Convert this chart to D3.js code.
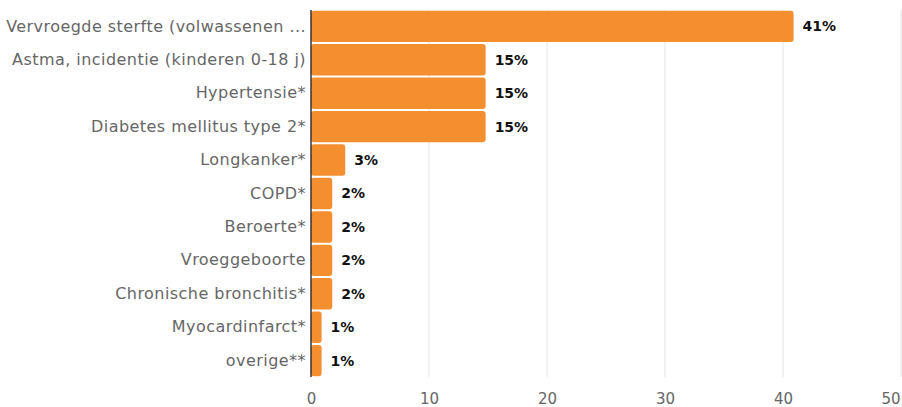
<!DOCTYPE html>
<html>
<head>
<meta charset="utf-8">
<script src="https://cdn.jsdelivr.net/npm/d3@7"></script>
<style>
  body { margin: 0; background: #fff; }
  text { font-family: "DejaVu Sans", sans-serif; }
</style>
</head>
<body>
<svg id="chart"></svg>
<script>
// data
const categories = [
  "Vervroegde sterfte (volwassenen ...",
  "Astma, incidentie (kinderen 0-18 j)",
  "Hypertensie*",
  "Diabetes mellitus type 2*",
  "Longkanker*",
  "COPD*",
  "Beroerte*",
  "Vroeggeboorte",
  "Chronische bronchitis*",
  "Myocardinfarct*",
  "overige**"
];
const values = [40.9, 14.8, 14.8, 14.8, 2.9, 1.8, 1.8, 1.8, 1.8, 0.9, 0.9];
const xTicks = [0, 10, 20, 30, 40, 50];

// dimensions
const width = 902;
const height = 407;
const margin = {top: 10, right: 1, bottom: 30, left: 311};
const innerWidth = width - margin.left - margin.right;
const innerHeight = height - margin.top - margin.bottom;

const svg = d3.select('#chart')
  .attr('width', width)
  .attr('height', height);

const g = svg.append('g')
  .attr('transform', `translate(${margin.left}, ${margin.top})`);

// scales
const xScale = d3.scaleLinear()
  .domain([0, 50])
  .range([0, innerWidth]);

const yScale = d3.scaleBand()
  .domain(categories)
  .range([0, innerHeight])
  .paddingInner(0.06)
  .paddingOuter(0.02);

// gridlines
g.selectAll('.grid')
  .data(xTicks.slice(1))
  .enter()
  .append('line')
  .attr('x1', d => xScale(d))
  .attr('x2', d => xScale(d))
  .attr('y1', 0)
  .attr('y2', innerHeight)
  .style('stroke', '#e3e3e3')
  .style('stroke-width', 1);

// x axis labels
const xAxis = d3.axisBottom(xScale)
  .tickValues(xTicks)
  .tickSize(0)
  .tickPadding(16);

const xg = g.append('g')
  .attr('transform', `translate(0, ${innerHeight})`)
  .call(xAxis);
xg.select('.domain').remove();
xg.selectAll('text')
  .style('font-size', '15px')
  .style('fill', '#666')
  .attr('text-anchor', d => d === 50 ? 'end' : 'middle')
  .attr('dx', d => d === 50 ? -1 : 0);

// bars
g.selectAll('.bar')
  .data(values)
  .enter()
  .append('rect')
  .attr('class', 'bar')
  .attr('x', 0)
  .attr('y', (d, i) => yScale(categories[i]))
  .attr('width', d => xScale(d))
  .attr('height', yScale.bandwidth())
  .attr('rx', 3)
  .style('fill', '#f48f2f');

// y axis
const yAxis = d3.axisLeft(yScale)
  .tickSize(0)
  .tickPadding(5);

const yg = g.append('g').call(yAxis);
yg.select('.domain')
  .style('stroke', '#333')
  .style('stroke-width', 1.5)
  .attr('d', `M0,0V${innerHeight}`);
yg.selectAll('text')
  .style('font-size', '16px')
  .style('letter-spacing', '0.45px')
  .style('fill', '#666');

// value labels
g.selectAll('.label')
  .data(values)
  .enter()
  .append('text')
  .attr('class', 'label')
  .attr('x', d => xScale(d) + 9)
  .attr('y', (d, i) => yScale(categories[i]) + yScale.bandwidth() / 2)
  .attr('dy', '0.35em')
  .style('font-size', '14px')
  .style('font-weight', 'bold')
  .style('fill', '#111')
  .text(d => d3.format('.0f')(d) + '%');
</script>
</body>
</html>
